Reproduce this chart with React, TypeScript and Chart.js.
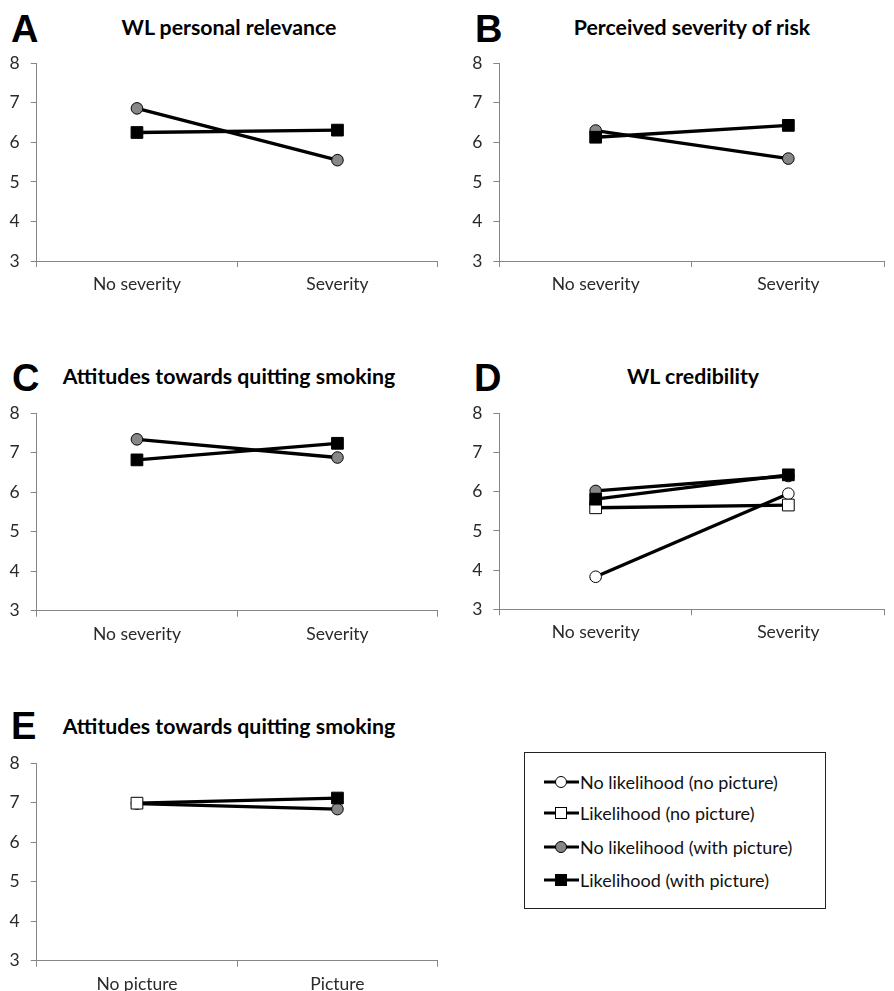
import React, { useEffect, useRef } from 'react';
import { Chart, registerables } from 'chart.js';
Chart.register(...registerables);

const FONT = 'Lato, "Liberation Sans", sans-serif';
const AXIS = '#868686';
const TICK = '#2a2a2a';
const GRAY = '#878787';

const severityLabels = ['No severity', 'Severity'];
const pictureLabels = ['No picture', 'Picture'];
const yMin = 3;
const yMax = 8;
const yStep = 1;

const seriesNames = [
  'No likelihood (no picture)',
  'Likelihood (no picture)',
  'No likelihood (with picture)',
  'Likelihood (with picture)',
];

// Panel A: WL personal relevance
const aNoLikelihoodPic = [6.86, 5.55];
const aLikelihoodPic = [6.25, 6.31];
// Panel B: Perceived severity of risk
const bNoLikelihoodPic = [6.3, 5.59];
const bLikelihoodPic = [6.13, 6.43];
// Panel C: Attitudes towards quitting smoking
const cNoLikelihoodPic = [7.34, 6.88];
const cLikelihoodPic = [6.82, 7.24];
// Panel D: WL credibility
const dNoLikelihoodNoPic = [3.83, 5.95];
const dLikelihoodNoPic = [5.59, 5.66];
const dNoLikelihoodPic = [6.02, 6.4];
const dLikelihoodPic = [5.81, 6.43];
// Panel E: Attitudes towards quitting smoking (by picture)
const eNoLikelihood = [6.98, 6.84];
const eLikelihood = [6.99, 7.12];

function ds(label: string, data: number[], style: string, fill: any, order: number) {
  return {
    label,
    data,
    order,
    borderColor: '#000',
    borderWidth: 3.3,
    pointStyle: style,
    pointRadius: style === 'rect' ? 8.3 : 5.8,
    pointBackgroundColor: fill,
    pointBorderColor: '#000',
    pointBorderWidth: 1,
    tension: 0,
  };
}

type PanelProps = {
  left: number;
  top: number;
  width: number;
  height: number;
  padTop: number;
  padRight: number;
  yWidth: number;
  xHeight: number;
  labels: string[];
  datasets: any[];
};

function Panel(p: PanelProps) {
  const ref = useRef<HTMLCanvasElement>(null);
  useEffect(() => {
    const chart = new Chart(ref.current as HTMLCanvasElement, {
      type: 'line',
      data: { labels: p.labels, datasets: p.datasets },
      options: {
        animation: false,
        responsive: false,
        maintainAspectRatio: false,
        devicePixelRatio: 1,
        layout: { padding: { top: p.padTop, right: p.padRight, left: 0, bottom: 0 } },
        plugins: { legend: { display: false }, tooltip: { enabled: false }, title: { display: false } },
        scales: {
          x: {
            type: 'category',
            offset: true,
            grid: { display: true, drawOnChartArea: false, drawTicks: true, tickLength: 6, color: AXIS, offset: true, lineWidth: 1 },
            border: { display: true, color: AXIS, width: 1 },
            ticks: { font: { family: FONT, size: 17.5 }, color: TICK, padding: 7, maxRotation: 0, autoSkip: false },
            afterFit: (s: any) => { s.height = p.xHeight; },
          },
          y: {
            min: yMin,
            max: yMax,
            grid: { display: true, drawOnChartArea: false, drawTicks: true, tickLength: 6, color: AXIS, lineWidth: 1 },
            border: { display: true, color: AXIS, width: 1 },
            ticks: { stepSize: yStep, font: { family: FONT, size: 17.5 }, color: TICK, padding: 11 },
            afterFit: (s: any) => { s.width = p.yWidth; },
          },
        },
      } as any,
    });
    return () => chart.destroy();
  }, []);
  return (
    <canvas
      ref={ref}
      width={p.width}
      height={p.height}
      style={{ position: 'absolute', left: p.left, top: p.top, width: p.width, height: p.height }}
    />
  );
}

function Letter({ ch, x, cy }: { ch: string; x: number; cy: number }) {
  return (
    <div
      style={{
        position: 'absolute', left: x, top: cy, transform: 'translateY(-50%)',
        font: 'bold 38px "Liberation Sans", Arial, sans-serif', lineHeight: 1, color: '#000',
      }}
    >
      {ch}
    </div>
  );
}

function Title({ text, cx, cy }: { text: string; cx: number; cy: number }) {
  return (
    <div
      style={{
        position: 'absolute', left: cx, top: cy, transform: 'translate(-50%, -50%)',
        fontFamily: FONT, fontWeight: 700, fontSize: 21.3, lineHeight: 1, whiteSpace: 'nowrap', color: '#000',
      }}
    >
      {text}
    </div>
  );
}

function LegendMarker({ kind }: { kind: number }) {
  const fills = ['#fff', '#fff', GRAY, '#000'];
  const isRect = kind === 1 || kind === 3;
  return (
    <svg width={36} height={16} style={{ display: 'block' }}>
      <line x1={0} y1={8} x2={35} y2={8} stroke="#000" strokeWidth={3} />
      {isRect ? (
        <rect x={11.5} y={2.5} width={11} height={11} fill={fills[kind]} stroke="#000" strokeWidth={1} />
      ) : (
        <circle cx={17} cy={8} r={5.5} fill={fills[kind]} stroke="#000" strokeWidth={1} />
      )}
    </svg>
  );
}

function Legend() {
  const rows = [781.7, 813.3, 846.7, 880];
  return (
    <>
      <div
        style={{
          position: 'absolute', left: 524, top: 752, width: 302, height: 157,
          border: '1px solid #222', boxSizing: 'border-box',
        }}
      />
      {seriesNames.map((name, i) => (
        <div key={name} style={{ position: 'absolute', left: 544, top: rows[i], transform: 'translateY(-50%)', display: 'flex', alignItems: 'center' }}>
          <LegendMarker kind={i} />
          <span style={{ fontFamily: FONT, fontSize: 18, color: '#111', whiteSpace: 'nowrap', lineHeight: 1 }}>{name}</span>
        </div>
      ))}
    </>
  );
}

export default function App() {
  const panelW = 447;
  const panelH = 270;
  return (
    <div style={{ position: 'absolute', left: 0, top: 0, width: 894, height: 991, overflow: 'hidden', background: '#fff' }}>
      <Letter ch="A" x={11} cy={28.5} />
      <Title text="WL personal relevance" cx={229} cy={28} />
      <Panel
        left={0} top={40} width={panelW} height={panelH} padTop={23.3} padRight={4.3} yWidth={36.7} xHeight={49}
        labels={severityLabels}
        datasets={[
          ds(seriesNames[2], aNoLikelihoodPic, 'circle', GRAY, 2),
          ds(seriesNames[3], aLikelihoodPic, 'rect', '#000', 1),
        ]}
      />

      <Letter ch="B" x={475} cy={28.5} />
      <Title text="Perceived severity of risk" cx={692} cy={28} />
      <Panel
        left={447} top={40} width={panelW} height={panelH} padTop={23.3} padRight={0.5} yWidth={52.3} xHeight={49}
        labels={severityLabels}
        datasets={[
          ds(seriesNames[2], bNoLikelihoodPic, 'circle', GRAY, 2),
          ds(seriesNames[3], bLikelihoodPic, 'rect', '#000', 1),
        ]}
      />

      <Letter ch="C" x={12} cy={378} />
      <Title text="Attitudes towards quitting smoking" cx={229} cy={377} />
      <Panel
        left={0} top={390} width={panelW} height={panelH} padTop={23.3} padRight={4.3} yWidth={36.7} xHeight={49.3}
        labels={severityLabels}
        datasets={[
          ds(seriesNames[2], cNoLikelihoodPic, 'circle', GRAY, 2),
          ds(seriesNames[3], cLikelihoodPic, 'rect', '#000', 1),
        ]}
      />

      <Letter ch="D" x={474} cy={378} />
      <Title text="WL credibility" cx={693} cy={377} />
      <Panel
        left={447} top={390} width={panelW} height={panelH} padTop={23.3} padRight={0.5} yWidth={52.3} xHeight={50.7}
        labels={severityLabels}
        datasets={[
          ds(seriesNames[0], dNoLikelihoodNoPic, 'circle', '#fff', 4),
          ds(seriesNames[1], dLikelihoodNoPic, 'rect', '#fff', 3),
          ds(seriesNames[2], dNoLikelihoodPic, 'circle', GRAY, 2),
          ds(seriesNames[3], dLikelihoodPic, 'rect', '#000', 1),
        ]}
      />

      <Letter ch="E" x={11} cy={726} />
      <Title text="Attitudes towards quitting smoking" cx={229} cy={727} />
      <Panel
        left={0} top={740} width={panelW} height={panelH} padTop={23.3} padRight={4.3} yWidth={36.7} xHeight={49.3}
        labels={pictureLabels}
        datasets={[
          ds('No likelihood', eNoLikelihood, 'circle', ['#fff', GRAY], 2),
          ds('Likelihood', eLikelihood, 'rect', ['#fff', '#000'], 1),
        ]}
      />

      <Legend />
    </div>
  );
}
